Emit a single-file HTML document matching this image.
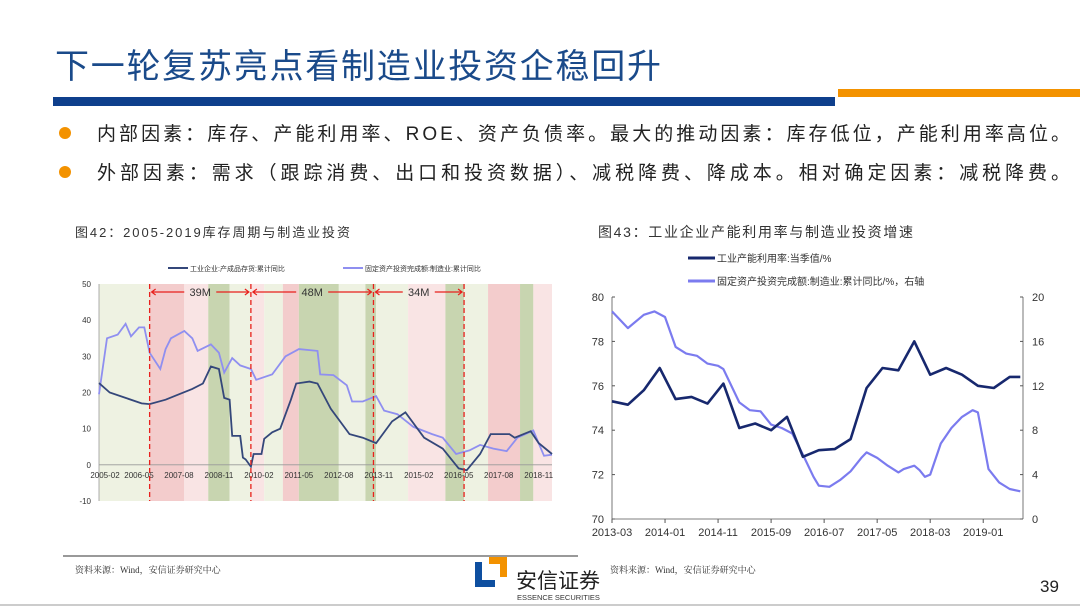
<!DOCTYPE html>
<html><head><meta charset="utf-8">
<style>
body{margin:0;width:1080px;height:608px;overflow:hidden;background:#fff;font-family:"Liberation Sans","Noto Sans CJK SC",sans-serif;}
svg{display:block}
</style></head>
<body>
<svg id="s" width="1080" height="608" xmlns="http://www.w3.org/2000/svg">
<text x="55" y="78" font-size="34" fill="#1a4a8a" textLength="606" lengthAdjust="spacing">下一轮复苏亮点看制造业投资企稳回升</text>
<rect x="53" y="97" width="782" height="9" fill="#0e3f8c"/>
<rect x="838" y="89" width="242" height="8" fill="#f39200"/>
<circle cx="65" cy="133" r="6" fill="#f39200"/>
<text x="97" y="140" font-size="19" fill="#222" textLength="973" lengthAdjust="spacing">内部因素：库存、产能利用率、ROE、资产负债率。最大的推动因素：库存低位，产能利用率高位。</text>
<circle cx="65" cy="172" r="6" fill="#f39200"/>
<text x="97" y="179" font-size="19" fill="#222" textLength="973" lengthAdjust="spacing">外部因素：需求（跟踪消费、出口和投资数据）、减税降费、降成本。相对确定因素：减税降费。</text>
<text x="75" y="237" font-size="13" fill="#333" textLength="275" lengthAdjust="spacing">图42：2005-2019库存周期与制造业投资</text>
<text x="598" y="237" font-size="14" fill="#333" textLength="315" lengthAdjust="spacing">图43：工业企业产能利用率与制造业投资增速</text>
<g id="c1"></g>
<g id="c2"></g>
<line x1="63" y1="556" x2="578" y2="556" stroke="#333" stroke-width="1"/>
<text x="75" y="573" font-size="9" fill="#333" font-family="Liberation Serif,Noto Serif CJK SC,serif">资料来源：Wind，安信证券研究中心</text>
<text x="610" y="573" font-size="9" fill="#333" font-family="Liberation Serif,Noto Serif CJK SC,serif">资料来源：Wind，安信证券研究中心</text>
<g>
<path d="M475 562 h7 v18 h13 v7 h-20z" fill="#0e4fa0"/>
<path d="M489 557 h18 v20 h-7 v-13 h-11z" fill="#f39200"/>
<text x="516" y="588" font-size="21" fill="#222">安信证券</text>
<text x="517" y="600" font-size="7.5" fill="#333">ESSENCE SECURITIES</text>
</g>
<text x="1040" y="592" font-size="17" fill="#222">39</text>
<line x1="0" y1="605" x2="1080" y2="605" stroke="#ccc" stroke-width="2"/>
</svg>
<script>
// ---- chart 1 data (months since 2005-02) ----
const c1XTicks=["2005-02","2006-05","2007-08","2008-11","2010-02","2011-05","2012-08","2013-11","2015-02","2016-05","2017-08","2018-11"];
const c1YTicks=[50,40,30,20,10,0,-10];
const c1InvMonths=[0,4,10,16,19,25,30,35,39,42,45,47,49,50,53,54,55,57,58,61,62,65,68,72,74,79,82,87,94,99,104,110,115,122,129,135,138,143,147,154,156,162,165,170];
const c1InvVals=[22.6,20,18.5,17,16.8,18,19.5,21,22.5,27.2,26.5,18.5,18,8,8,2,1.5,-0.5,3,3,7.2,9,10,18,22.5,23,22.5,15.5,8.5,7.5,6,12,14.5,7.5,4.5,-1,-1.5,3,8.5,8.5,7.5,9.3,6,3];
const c1FaiMonths=[0,3,7,10,12,15,17,19,23,25,27,32,35,37,42,45,47,50,53,57,59,65,70,75,82,83,88,93,95,99,104,107,112,118,125,129,134,139,143,148,153,157,163,167,170];
const c1FaiVals=[19.5,35,36,39,35.5,38,38,31,26.5,32,35,37,35,31.5,33.3,31,25.5,29.5,27.5,26.5,23.5,25,30,32,31.5,25,24.8,22,17.5,17.5,19,15,14,10.5,8.5,7.5,3,4,5.5,4.5,3.8,7.5,9.5,2.5,2.8];
const c1BandStart=[0,19,32,41,49,57,62,69,75,90,100,104,116,130,137,146,158,163];
const c1BandType=["lg","pk","lp","g","lg","lp","lg","pk","g","lg","g","lg","lp","g","lg","pk","g","lp"];
const c1Cycles=[19,57,103,137];
const c1CycleLabels=["39M","48M","34M"];
// ---- chart 2 data (months since 2013-03) ----
const c2XTicks=["2013-03","2014-01","2014-11","2015-09","2016-07","2017-05","2018-03","2019-01"];
const c2LTicks=[80,78,76,74,72,70];
const c2RTicks=[20,16,12,8,4,0];
const c2CuMonths=[0,3,6,9,12,15,18,21,24,27,30,33,36,39,42,45,48,51,54,57,60,63,66,69,72,75,77];
const c2CuVals=[75.3,75.15,75.8,76.8,75.4,75.5,75.2,76.1,74.1,74.3,74.0,74.6,72.8,73.1,73.15,73.6,75.9,76.8,76.7,78.0,76.5,76.8,76.5,76.0,75.9,76.4,76.4];
const c2FaiMonths=[0,3,6,8,10,12,14,16,18,20,21,24,26,28,30,32,34,36,38,39,41,43,45,47,48,50,52,54,55,57,58,59,60,62,64,66,68,69,71,73,75,77];
const c2FaiVals=[18.7,17.2,18.4,18.7,18.2,15.5,14.9,14.7,14.0,13.8,13.5,10.5,9.8,9.7,8.5,8.2,7.7,5.8,3.8,3.0,2.9,3.5,4.3,5.5,6.0,5.5,4.8,4.2,4.5,4.8,4.4,3.8,4.0,6.8,8.2,9.2,9.8,9.6,4.5,3.3,2.7,2.5];

const NS="http://www.w3.org/2000/svg";
function mk(p,tag,a,txt){const e=document.createElementNS(NS,tag);for(const k in a)e.setAttribute(k,a[k]);if(txt!==undefined)e.textContent=txt;p.appendChild(e);return e;}
function pathD(xs,ys,fx,fy){return xs.map((m,i)=>(i?"L":"M")+fx(m).toFixed(1)+" "+fy(ys[i]).toFixed(1)).join(" ");}

// chart 1
(function(){
const g=document.getElementById('c1');
const x0=99,x1=552,mMax=170,yTop=284,yBot=501;
const fx=m=>x0+(x1-x0)*m/mMax, fy=v=>yTop+(50-v)*(yBot-yTop)/60;
const col={lg:"#eef2e2",pk:"#f3cccc",lp:"#f9e4e4",g:"#c8d5b0"};
c1BandStart.forEach((s,i)=>{const e=i+1<c1BandStart.length?c1BandStart[i+1]:mMax;
 const r=mk(g,'rect',{x:fx(s),y:yTop,width:fx(e)-fx(s),height:yBot-yTop,fill:col[c1BandType[i]]});
 
 });
const ax=mk(g,'line',{x1:x0,y1:fy(0),x2:x1,y2:fy(0),stroke:"#999","stroke-width":0.8});

const ay=mk(g,'line',{x1:x0,y1:yTop,x2:x0,y2:yBot,stroke:"#999","stroke-width":0.8});

c1YTicks.forEach(v=>{const t=mk(g,'text',{x:91,y:fy(v)+3,"font-size":8,fill:"#333","text-anchor":"end"},String(v));
 });
c1XTicks.forEach((l,i)=>{const t=mk(g,'text',{x:fx(i*15)+(i?0:6),y:478,"font-size":8,fill:"#333","text-anchor":"middle"},l);
 });
const p2=mk(g,'path',{d:pathD(c1FaiMonths,c1FaiVals,fx,fy),fill:"none",stroke:"#8f8ff0","stroke-width":1.8});

const p1=mk(g,'path',{d:pathD(c1InvMonths,c1InvVals,fx,fy),fill:"none",stroke:"#34477a","stroke-width":1.8});

c1Cycles.forEach(m=>{const l=mk(g,'line',{x1:fx(m),y1:yTop,x2:fx(m),y2:yBot,stroke:"#e8201c","stroke-width":1.3,"stroke-dasharray":"5,3"});
 });
c1CycleLabels.forEach((lab,i)=>{const a=fx(c1Cycles[i]),b=fx(c1Cycles[i+1]),c=(a+b)/2,y=292;
 const t=mk(g,'text',{x:c,y:y+4,"font-size":11,fill:"#333","text-anchor":"middle"},lab);
 
 [[a+2,c-16],[b-2,c+16]].forEach(([tip,tail])=>{const d=tip<tail?1:-1;
  const ar=mk(g,'path',{d:`M${tail} ${y} L${tip} ${y} M${tip+4*d} ${y-3} L${tip} ${y} L${tip+4*d} ${y+3}`,stroke:"#e8201c","stroke-width":1.2,fill:"none"});
  });});
const lg1=mk(g,'line',{x1:168,y1:268,x2:188,y2:268,stroke:"#34477a","stroke-width":2});

const lt1=mk(g,'text',{x:190,y:271,"font-size":7,fill:"#333"},"工业企业:产成品存货:累计同比");

const lg2=mk(g,'line',{x1:343,y1:268,x2:363,y2:268,stroke:"#8f8ff0","stroke-width":2});

const lt2=mk(g,'text',{x:365,y:271,"font-size":7,fill:"#333"},"固定资产投资完成额:制造业:累计同比");

})();

// chart 2
(function(){
const g=document.getElementById('c2');
const x0=612,x1=1023,mMax=77.5,yTop=297,yBot=519;
const fx=m=>x0+(x1-x0)*m/mMax, fyL=v=>yTop+(80-v)*(yBot-yTop)/10, fyR=v=>yTop+(20-v)*(yBot-yTop)/20;
const axes=[[x0,yTop,x0,yBot,'left-y-axis'],[x1,yTop,x1,yBot,'right-y-axis'],[x0,yBot,x1,yBot,'x-axis']];
axes.forEach(a=>{const l=mk(g,'line',{x1:a[0],y1:a[1],x2:a[2],y2:a[3],stroke:"#555","stroke-width":0.8});
 });
c2LTicks.forEach(v=>{const t=mk(g,'text',{x:604,y:fyL(v)+4,"font-size":11,fill:"#333","text-anchor":"end"},String(v));
 
 mk(g,'line',{x1:x0,y1:fyL(v),x2:x0+3,y2:fyL(v),stroke:"#555"});});
c2RTicks.forEach(v=>{const t=mk(g,'text',{x:1032,y:fyR(v)+4,"font-size":11,fill:"#333"},String(v));
 
 mk(g,'line',{x1:x1-3,y1:fyR(v),x2:x1,y2:fyR(v),stroke:"#555"});});
c2XTicks.forEach((l,i)=>{const x=fx(i*10);
 mk(g,'line',{x1:x,y1:yBot,x2:x,y2:yBot+4,stroke:"#555"});
 const t=mk(g,'text',{x:x,y:536,"font-size":11,fill:"#333","text-anchor":"middle"},l);
 });
const p2=mk(g,'path',{d:pathD(c2FaiMonths,c2FaiVals,fx,fyR),fill:"none",stroke:"#7b7bef","stroke-width":2.2,"stroke-linejoin":"round"});

const p1=mk(g,'path',{d:pathD(c2CuMonths,c2CuVals,fx,fyL),fill:"none",stroke:"#17286e","stroke-width":2.6,"stroke-linejoin":"round"});

const lg1=mk(g,'line',{x1:688,y1:258,x2:715,y2:258,stroke:"#17286e","stroke-width":3});

const lt1=mk(g,'text',{x:717,y:262,"font-size":10,fill:"#333"},"工业产能利用率:当季值/%");

const lg2=mk(g,'line',{x1:688,y1:281,x2:715,y2:281,stroke:"#7b7bef","stroke-width":3});

const lt2=mk(g,'text',{x:717,y:285,"font-size":10,fill:"#333"},"固定资产投资完成额:制造业:累计同比/%，右轴");

})();
</script>
</body></html>
